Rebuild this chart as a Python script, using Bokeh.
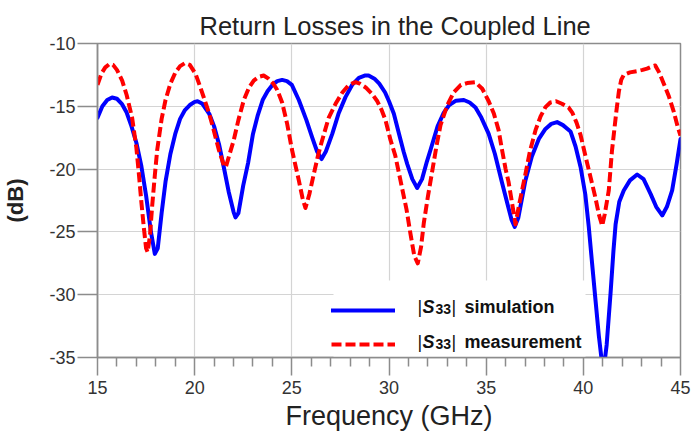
from bokeh.plotting import figure
from bokeh.models import FixedTicker, Legend, LegendItem, Label, Range1d, BoxAnnotation
from bokeh.embed import file_html
from bokeh.resources import INLINE

# |S33| simulation (GHz, dB)
freq_sim = [15.0, 15.25, 15.5, 15.75, 16.0, 16.25, 16.5, 16.75, 17.0, 17.25,
            17.5, 17.75, 17.95, 18.1, 18.3, 18.5, 18.75, 19.0, 19.25, 19.5,
            19.75, 20.0, 20.15, 20.4, 20.75, 21.0, 21.25, 21.5, 21.75, 22.0,
            22.1, 22.25, 22.5, 22.75, 23.0, 23.25, 23.5, 23.75, 24.0, 24.25,
            24.5, 24.75, 25.0, 25.36, 25.75, 26.05, 26.3, 26.53, 26.75, 27.08,
            27.4, 27.76, 28.1, 28.45, 28.75, 28.95, 29.25, 29.5, 29.8, 30.0,
            30.25, 30.5, 30.75, 30.94, 31.2, 31.45, 31.7, 31.95, 32.15, 32.5,
            32.82, 33.1, 33.45, 33.85, 34.15, 34.45, 34.75, 35.13, 35.45, 35.82,
            36.1, 36.3, 36.47, 36.65, 37.02, 37.35, 37.71, 38.05, 38.35, 38.65,
            38.95, 39.34, 39.6, 39.86, 40.1, 40.28, 40.45, 40.63, 40.8, 40.95,
            41.06, 41.2, 41.4, 41.55, 41.66, 41.85, 42.08, 42.4, 42.77, 43.1,
            43.46, 43.75, 44.06, 44.3, 44.57, 44.8, 45.0]
s33_sim = [-15.9, -15.0, -14.5, -14.3, -14.4, -14.8, -15.5, -16.6, -17.9, -19.7,
           -22.1, -25.0, -26.75, -26.3, -23.5, -21.0, -18.8, -17.2, -16.0, -15.3,
           -14.9, -14.65, -14.6, -14.8, -15.6, -16.6, -18.0, -19.85, -21.8, -23.4,
           -23.85, -23.5, -21.3, -19.5, -17.2, -15.7, -14.5, -13.8, -13.3, -13.0,
           -12.9, -13.0, -13.3, -14.5, -16.1, -17.5, -18.6, -19.2, -18.6, -17.2,
           -15.6, -14.27, -13.3, -12.73, -12.55, -12.55, -12.8, -13.2, -13.9, -14.6,
           -15.6, -17.1, -18.6, -19.6, -20.8, -21.5, -20.8, -19.4, -18.4, -16.6,
           -15.5, -14.9, -14.55, -14.5, -14.7, -15.1, -15.9, -17.2, -18.8, -21.1,
           -22.8, -24.0, -24.6, -23.9, -20.9, -19.0, -17.6, -16.8, -16.4, -16.26,
           -16.5, -17.0, -18.2, -19.85, -22.0, -24.6, -27.5, -30.5, -33.3, -35.3,
           -35.8, -34.0, -29.9, -26.5, -24.4, -22.6, -21.7, -20.9, -20.43, -20.8,
           -21.97, -23.0, -23.69, -23.0, -21.7, -19.6, -17.6]

# |S33| measurement (GHz, dB)
freq_meas = [15.0, 15.2, 15.4, 15.6, 15.8, 16.0, 16.27, 16.5, 16.78, 17.0,
             17.13, 17.25, 17.38, 17.5, 17.58, 17.7, 17.81, 17.95, 18.07, 18.3,
             18.5, 18.75, 19.01, 19.25, 19.5, 19.75, 20.04, 20.25, 20.47, 20.75,
             20.98, 21.25, 21.5, 21.6, 21.8, 22.01, 22.25, 22.53, 22.8, 23.04,
             23.3, 23.55, 23.8, 24.05, 24.25, 24.5, 24.76, 25.0, 25.2, 25.36,
             25.55, 25.7, 25.9, 26.13, 26.35, 26.56, 26.9, 27.25, 27.6, 27.93,
             28.28, 28.5, 28.8, 29.12, 29.4, 29.63, 29.82, 30.08, 30.32, 30.59,
             30.9, 31.11, 31.3, 31.48, 31.65, 31.79, 32.0, 32.22, 32.45, 32.65,
             33.0, 33.33, 33.7, 34.02, 34.44, 34.8, 35.13, 35.4, 35.64, 35.82,
             36.0, 36.15, 36.3, 36.51, 36.7, 37.02, 37.25, 37.54, 37.8, 38.05,
             38.3, 38.6, 38.9, 39.24, 39.43, 39.65, 39.86, 40.1, 40.37, 40.61,
             40.8, 40.97, 41.1, 41.31, 41.47, 41.57, 41.7, 41.83, 41.95, 42.08,
             42.4, 42.77, 43.05, 43.28, 43.5, 43.7, 43.9, 44.14, 44.4, 44.66,
             44.85, 45.0]
s33_meas = [-13.3, -12.4, -11.9, -11.65, -11.7, -12.1, -12.95, -14.1, -15.9, -18.3,
            -20.4, -22.5, -24.6, -26.3, -26.6, -25.3, -23.0, -20.5, -18.5, -16.0,
            -14.5, -13.2, -12.3, -11.8, -11.56, -11.7, -12.4, -13.3, -14.3, -15.6,
            -16.9, -18.5, -19.7, -19.85, -18.8, -17.7, -16.1, -14.5, -13.5, -12.95,
            -12.65, -12.55, -12.8, -13.2, -13.7, -14.7, -16.4, -18.4, -19.8, -20.9,
            -22.3, -23.1, -22.0, -20.4, -18.9, -17.7, -15.9, -14.8, -13.9, -13.3,
            -13.08, -13.2, -13.5, -14.0, -14.6, -15.33, -16.1, -17.7, -18.9, -20.9,
            -23.2, -25.2, -26.9, -27.5, -26.2, -24.3, -22.2, -20.2, -18.1, -16.5,
            -14.9, -13.9, -13.3, -13.15, -13.08, -13.6, -14.6, -15.6, -16.9, -18.5,
            -20.0, -21.0, -22.4, -24.4, -22.8, -20.4, -18.6, -16.9, -15.8, -15.07,
            -14.7, -14.6, -14.8, -15.1, -15.5, -16.3, -17.3, -18.9, -20.64, -22.2,
            -23.6, -24.5, -23.6, -21.7, -18.6, -17.2, -15.4, -13.8, -12.9, -12.5,
            -12.3, -12.2, -12.1, -12.0, -11.85, -11.75, -12.3, -13.2, -14.2, -15.47,
            -16.6, -17.33]

x_ticks = [15, 20, 25, 30, 35, 40, 45]
y_ticks = [-35, -30, -25, -20, -15, -10]

FONT = "Liberation Sans"
FRAME_GREY = "#8c8c8c"

p = figure(width=696, height=438,
           x_range=Range1d(x_ticks[0], x_ticks[-1]),
           y_range=Range1d(y_ticks[0], y_ticks[-1]),
           output_backend="svg", toolbar_location=None,
           min_border_left=97, min_border_right=16,
           min_border_top=43, min_border_bottom=81)
p.background_fill_color = "white"
p.border_fill_color = "white"
p.outline_line_color = FRAME_GREY
p.outline_line_width = 1.5

# title
p.title.text = "Return Losses in the Coupled Line"
p.title.text_font = FONT
p.title.text_font_size = "25.5px"
p.title.text_font_style = "normal"
p.title.text_color = "#222222"
p.title.align = "left"
p.title.offset = 102
p.title.standoff = 8

# axes
minor = [t for t in range(x_ticks[0], x_ticks[-1] + 1) if t not in x_ticks]
p.xaxis.ticker = FixedTicker(ticks=x_ticks, minor_ticks=minor)
p.yaxis.ticker = FixedTicker(ticks=y_ticks)
p.yaxis.major_label_overrides = {t: str(t) for t in y_ticks}

for ax in (p.xaxis[0], p.yaxis[0]):
    ax.axis_line_color = FRAME_GREY
    ax.axis_line_width = 1.5
    ax.major_tick_line_color = FRAME_GREY
    ax.major_tick_line_width = 1.5
    ax.minor_tick_line_color = FRAME_GREY
    ax.minor_tick_line_width = 1.5
    ax.major_tick_in = 0
    ax.minor_tick_in = 0
    ax.major_label_text_font = FONT
    ax.major_label_text_font_size = "18px"
    ax.major_label_text_color = "#333333"
    ax.axis_label_text_font = FONT
    ax.axis_label_text_color = "#222222"

p.xaxis.major_tick_out = 18
p.xaxis.minor_tick_out = 9
p.xaxis.major_label_standoff = 5
p.xaxis.axis_label = "Frequency (GHz)"
p.xaxis.axis_label_text_font_size = "27px"
p.xaxis.axis_label_text_font_style = "normal"
p.xaxis.axis_label_standoff = 4

p.yaxis.major_tick_out = 20
p.yaxis.minor_tick_line_color = None
p.yaxis.major_label_standoff = 2
p.yaxis.axis_label = "(dB)"
p.yaxis.axis_label_text_font_size = "22px"
p.yaxis.axis_label_text_font_style = "bold"
p.yaxis.axis_label_standoff = 18

p.xgrid.grid_line_color = "#d4d4d4"
p.ygrid.grid_line_color = "#d4d4d4"
p.xgrid.grid_line_width = 1.2
p.ygrid.grid_line_width = 1.2

# white patch behind the legend that hides the grid there
p.add_layout(BoxAnnotation(left=236, right=488, bottom=0, top=77,
                           left_units="screen", right_units="screen",
                           bottom_units="screen", top_units="screen",
                           fill_color="white", fill_alpha=1.0,
                           line_color=None, level="underlay"))

# curves
r_sim = p.line(freq_sim, s33_sim, line_color="#0000ff", line_width=4,
               line_join="round", line_cap="round")
r_meas = p.line(freq_meas, s33_meas, line_color="#ff0000", line_width=4,
                line_dash="10 4", line_join="round")

# legend line samples; the text is drawn with labels
legend = Legend(items=[LegendItem(label=" ", renderers=[r_sim]),
                       LegendItem(label=" ", renderers=[r_meas])],
                location=(234, 3), glyph_width=64, glyph_height=20,
                label_height=20, label_width=160, label_standoff=10,
                spacing=14, padding=10, margin=0,
                border_line_color=None, background_fill_alpha=0.0,
                label_text_font_size="10px")
p.add_layout(legend)

def legend_text(row_y, word):
    common = dict(x_units="screen", y_units="screen", text_font=FONT,
                  text_color="#111111", text_baseline="alphabetic",
                  level="overlay")
    p.add_layout(Label(x=320, y=row_y, text="|", text_font_size="18px", **common))
    p.add_layout(Label(x=325, y=row_y, text="S", text_font_size="18px",
                       text_font_style="bold italic", **common))
    p.add_layout(Label(x=338, y=row_y - 2, text="33", text_font_size="14px",
                       text_font_style="bold", **common))
    p.add_layout(Label(x=354, y=row_y, text="|", text_font_size="18px", **common))
    p.add_layout(Label(x=367, y=row_y, text=word, text_font_size="18px",
                       text_font_style="bold", **common))

legend_text(51, "simulation")
legend_text(16, "measurement")

open("out.html", "w").write(file_html(p, INLINE))
